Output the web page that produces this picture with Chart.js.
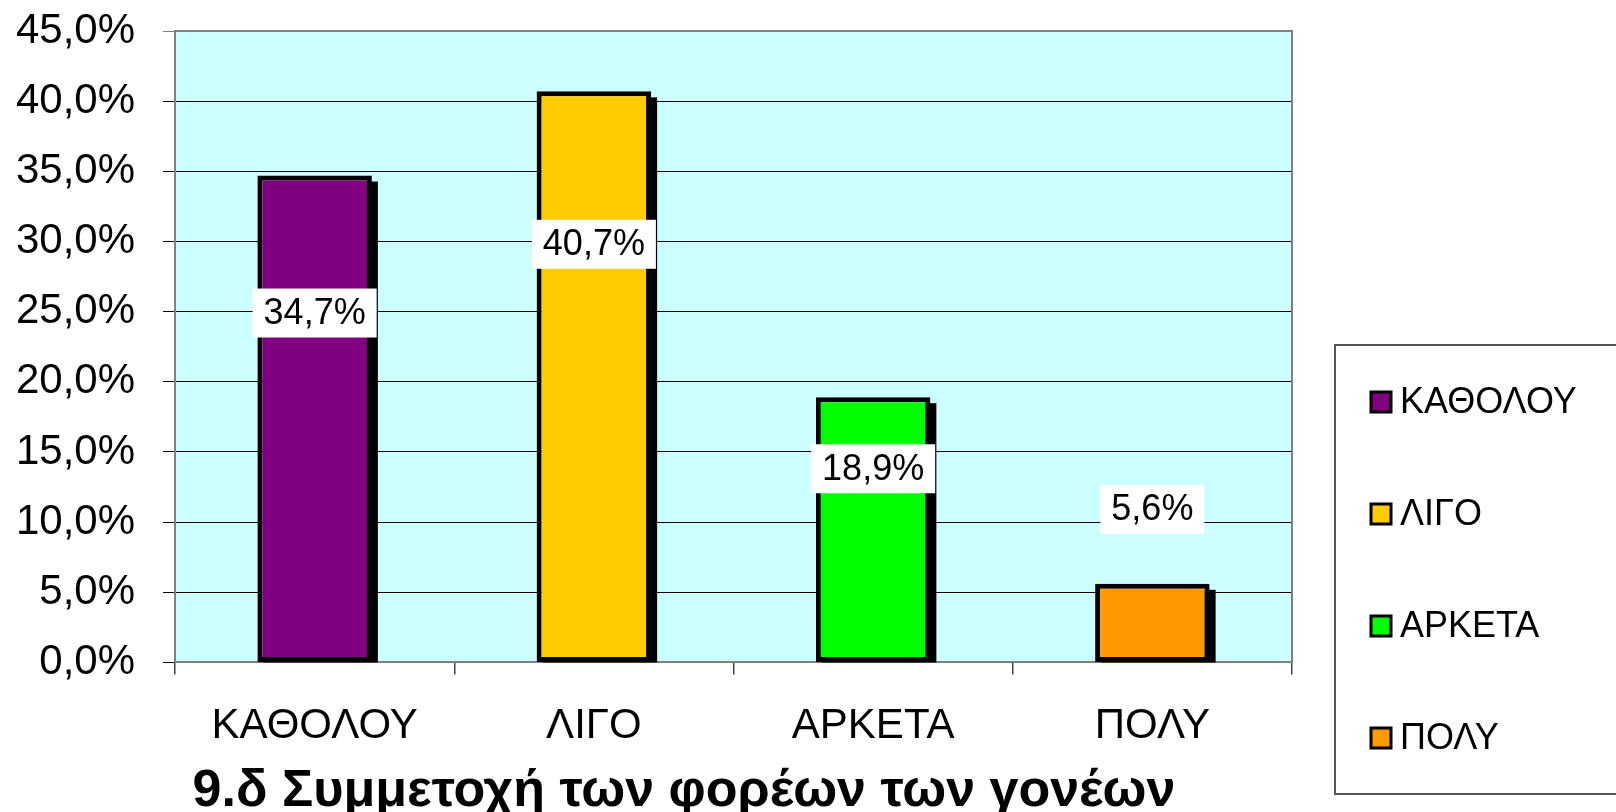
<!DOCTYPE html>
<html>
<head>
<meta charset="utf-8">
<script src="https://cdn.jsdelivr.net/npm/chart.js@4.4.1/dist/chart.umd.min.js"></script>
<style>
  body { margin: 0; background: #fff; }
  #wrap { width: 1616px; height: 812px; }
</style>
</head>
<body>
<div id="wrap"><canvas id="chart" width="1616" height="812"></canvas></div>
<script>
// chart data
const categories = ['ΚΑΘΟΛΟΥ', 'ΛΙΓΟ', 'ΑΡΚΕΤΑ', 'ΠΟΛΥ'];
const percentValues = [34.7, 40.7, 18.9, 5.6];
const labelAnchors = [24.9, 29.8, 13.8, 10.9];   // where each value box sits, in % units
const barColors = ['#800080', '#FFCC00', '#00FF00', '#FF9900'];
const yMax = 45;
const yStep = 5;
const chartTitle = '9.δ Συμμετοχή των φορέων των γονέων';

const FONT = "'Liberation Sans', Arial, sans-serif";

function formatPercent(v) {
  return v.toFixed(1).replace('.', ',') + '%';
}

// cyan plot background plus the grey frame on top and right
const plotFrame = {
  id: 'plotFrame',
  afterLayout(chart) {
    // the original title is centred a bit right of the canvas middle
    if (chart.titleBlock) chart.titleBlock.left = 76;
  },
  beforeDraw(chart) {
    const { ctx, chartArea: a } = chart;
    ctx.save();
    ctx.fillStyle = '#CCFFFF';
    ctx.fillRect(a.left, a.top, a.right - a.left, a.bottom - a.top);
    ctx.restore();
  },
  afterDraw(chart) {
    const { ctx, chartArea: a } = chart;
    ctx.save();
    ctx.strokeStyle = '#808080';
    ctx.lineWidth = 2;
    ctx.beginPath();
    ctx.moveTo(a.left, a.top);
    ctx.lineTo(a.right, a.top);
    ctx.lineTo(a.right, a.bottom);
    ctx.stroke();
    ctx.restore();
  }
};

// hard black shadow to the lower right of each bar (bar element clips its own ctx shadow)
const barShadow = {
  id: 'barShadow',
  beforeDatasetsDraw(chart) {
    const { ctx, chartArea: a } = chart;
    const off = 6;
    ctx.save();
    ctx.beginPath();
    ctx.rect(a.left, a.top, a.right - a.left, a.bottom - a.top);
    ctx.clip();
    ctx.fillStyle = '#000';
    chart.getDatasetMeta(0).data.forEach(bar => {
      const left = bar.x - bar.width / 2 + off;
      ctx.fillRect(left, bar.y + off, bar.width, bar.base - bar.y);
    });
    ctx.restore();
  }
};

// white boxes with the values
const valueBoxes = {
  id: 'valueBoxes',
  afterDatasetsDraw(chart) {
    const { ctx } = chart;
    const yScale = chart.scales.y;
    const bars = chart.getDatasetMeta(0).data;
    ctx.save();
    ctx.font = '36px ' + FONT;
    ctx.textAlign = 'center';
    ctx.textBaseline = 'middle';
    bars.forEach((bar, i) => {
      const text = formatPercent(percentValues[i]);
      const w = ctx.measureText(text).width + 22;
      const h = 49;
      const x = bar.x;
      const y = yScale.getPixelForValue(labelAnchors[i]);
      ctx.fillStyle = '#fff';
      ctx.fillRect(x - w / 2, y - h / 2, w, h);
      ctx.fillStyle = '#000';
      ctx.fillText(text, x, y + 1);
    });
    ctx.restore();
  }
};

// boxed legend on the right, one entry per category
const sideLegend = {
  id: 'sideLegend',
  afterDraw(chart) {
    const { ctx } = chart;
    const boxLeft = 1335, boxTop = 345, boxBottom = 794;
    ctx.save();
    ctx.strokeStyle = '#555';
    ctx.lineWidth = 2;
    ctx.strokeRect(boxLeft, boxTop, 400, boxBottom - boxTop);
    ctx.font = '36px ' + FONT;
    ctx.textBaseline = 'middle';
    chart.data.labels.forEach((label, i) => {
      const y = boxTop + 57 + i * 112;
      ctx.fillStyle = barColors[i];
      ctx.fillRect(1371, y - 10, 20, 20);
      ctx.strokeStyle = '#000';
      ctx.lineWidth = 3;
      ctx.strokeRect(1371, y - 10, 20, 20);
      ctx.fillStyle = '#000';
      ctx.fillText(label, 1400, y + 1);
    });
    ctx.restore();
  }
};

const ctx = document.getElementById('chart').getContext('2d');
new Chart(ctx, {
  type: 'bar',
  data: {
    labels: categories,
    datasets: [{
      data: percentValues,
      backgroundColor: barColors,
      borderColor: '#000',
      borderWidth: 5,
      borderSkipped: false,
      barPercentage: 0.41,
      categoryPercentage: 1.0
    }]
  },
  options: {
    responsive: false,
    animation: false,
    devicePixelRatio: 1,
    layout: { padding: { top: 31, right: 324, left: 0, bottom: 0 } },
    plugins: {
      legend: { display: false },
      tooltip: { enabled: false },
      title: {
        display: true,
        position: 'bottom',
        text: chartTitle,
        color: '#000',
        font: { family: FONT, size: 52, weight: 'bold', lineHeight: 0.8 },
        padding: 0
      }
    },
    scales: {
      x: {
        afterFit(scale) { scale.height = 108; },
        grid: {
          offset: true,
          drawOnChartArea: false,
          drawTicks: true,
          tickLength: 12,
          color: '#444',
          lineWidth: 1.5
        },
        border: { color: '#808080', width: 2 },
        ticks: {
          color: '#000',
          padding: 27,
          font: { family: FONT, size: 42 }
        }
      },
      y: {
        min: 0,
        max: yMax,
        afterFit(scale) {
          scale.width = 175;
          scale.paddingTop = 0;
          scale.paddingBottom = 0;
        },
        grid: {
          color: ctx => (ctx.tick && ctx.tick.value === yMax ? '#808080' : '#000'),
          lineWidth: 1,
          tickLength: 12
        },
        border: { color: '#808080', width: 2 },
        ticks: {
          stepSize: yStep,
          color: '#000',
          padding: 28,
          font: { family: FONT, size: 42 },
          callback: v => formatPercent(v)
        }
      }
    }
  },
  plugins: [plotFrame, barShadow, valueBoxes, sideLegend]
});
</script>
</body>
</html>
